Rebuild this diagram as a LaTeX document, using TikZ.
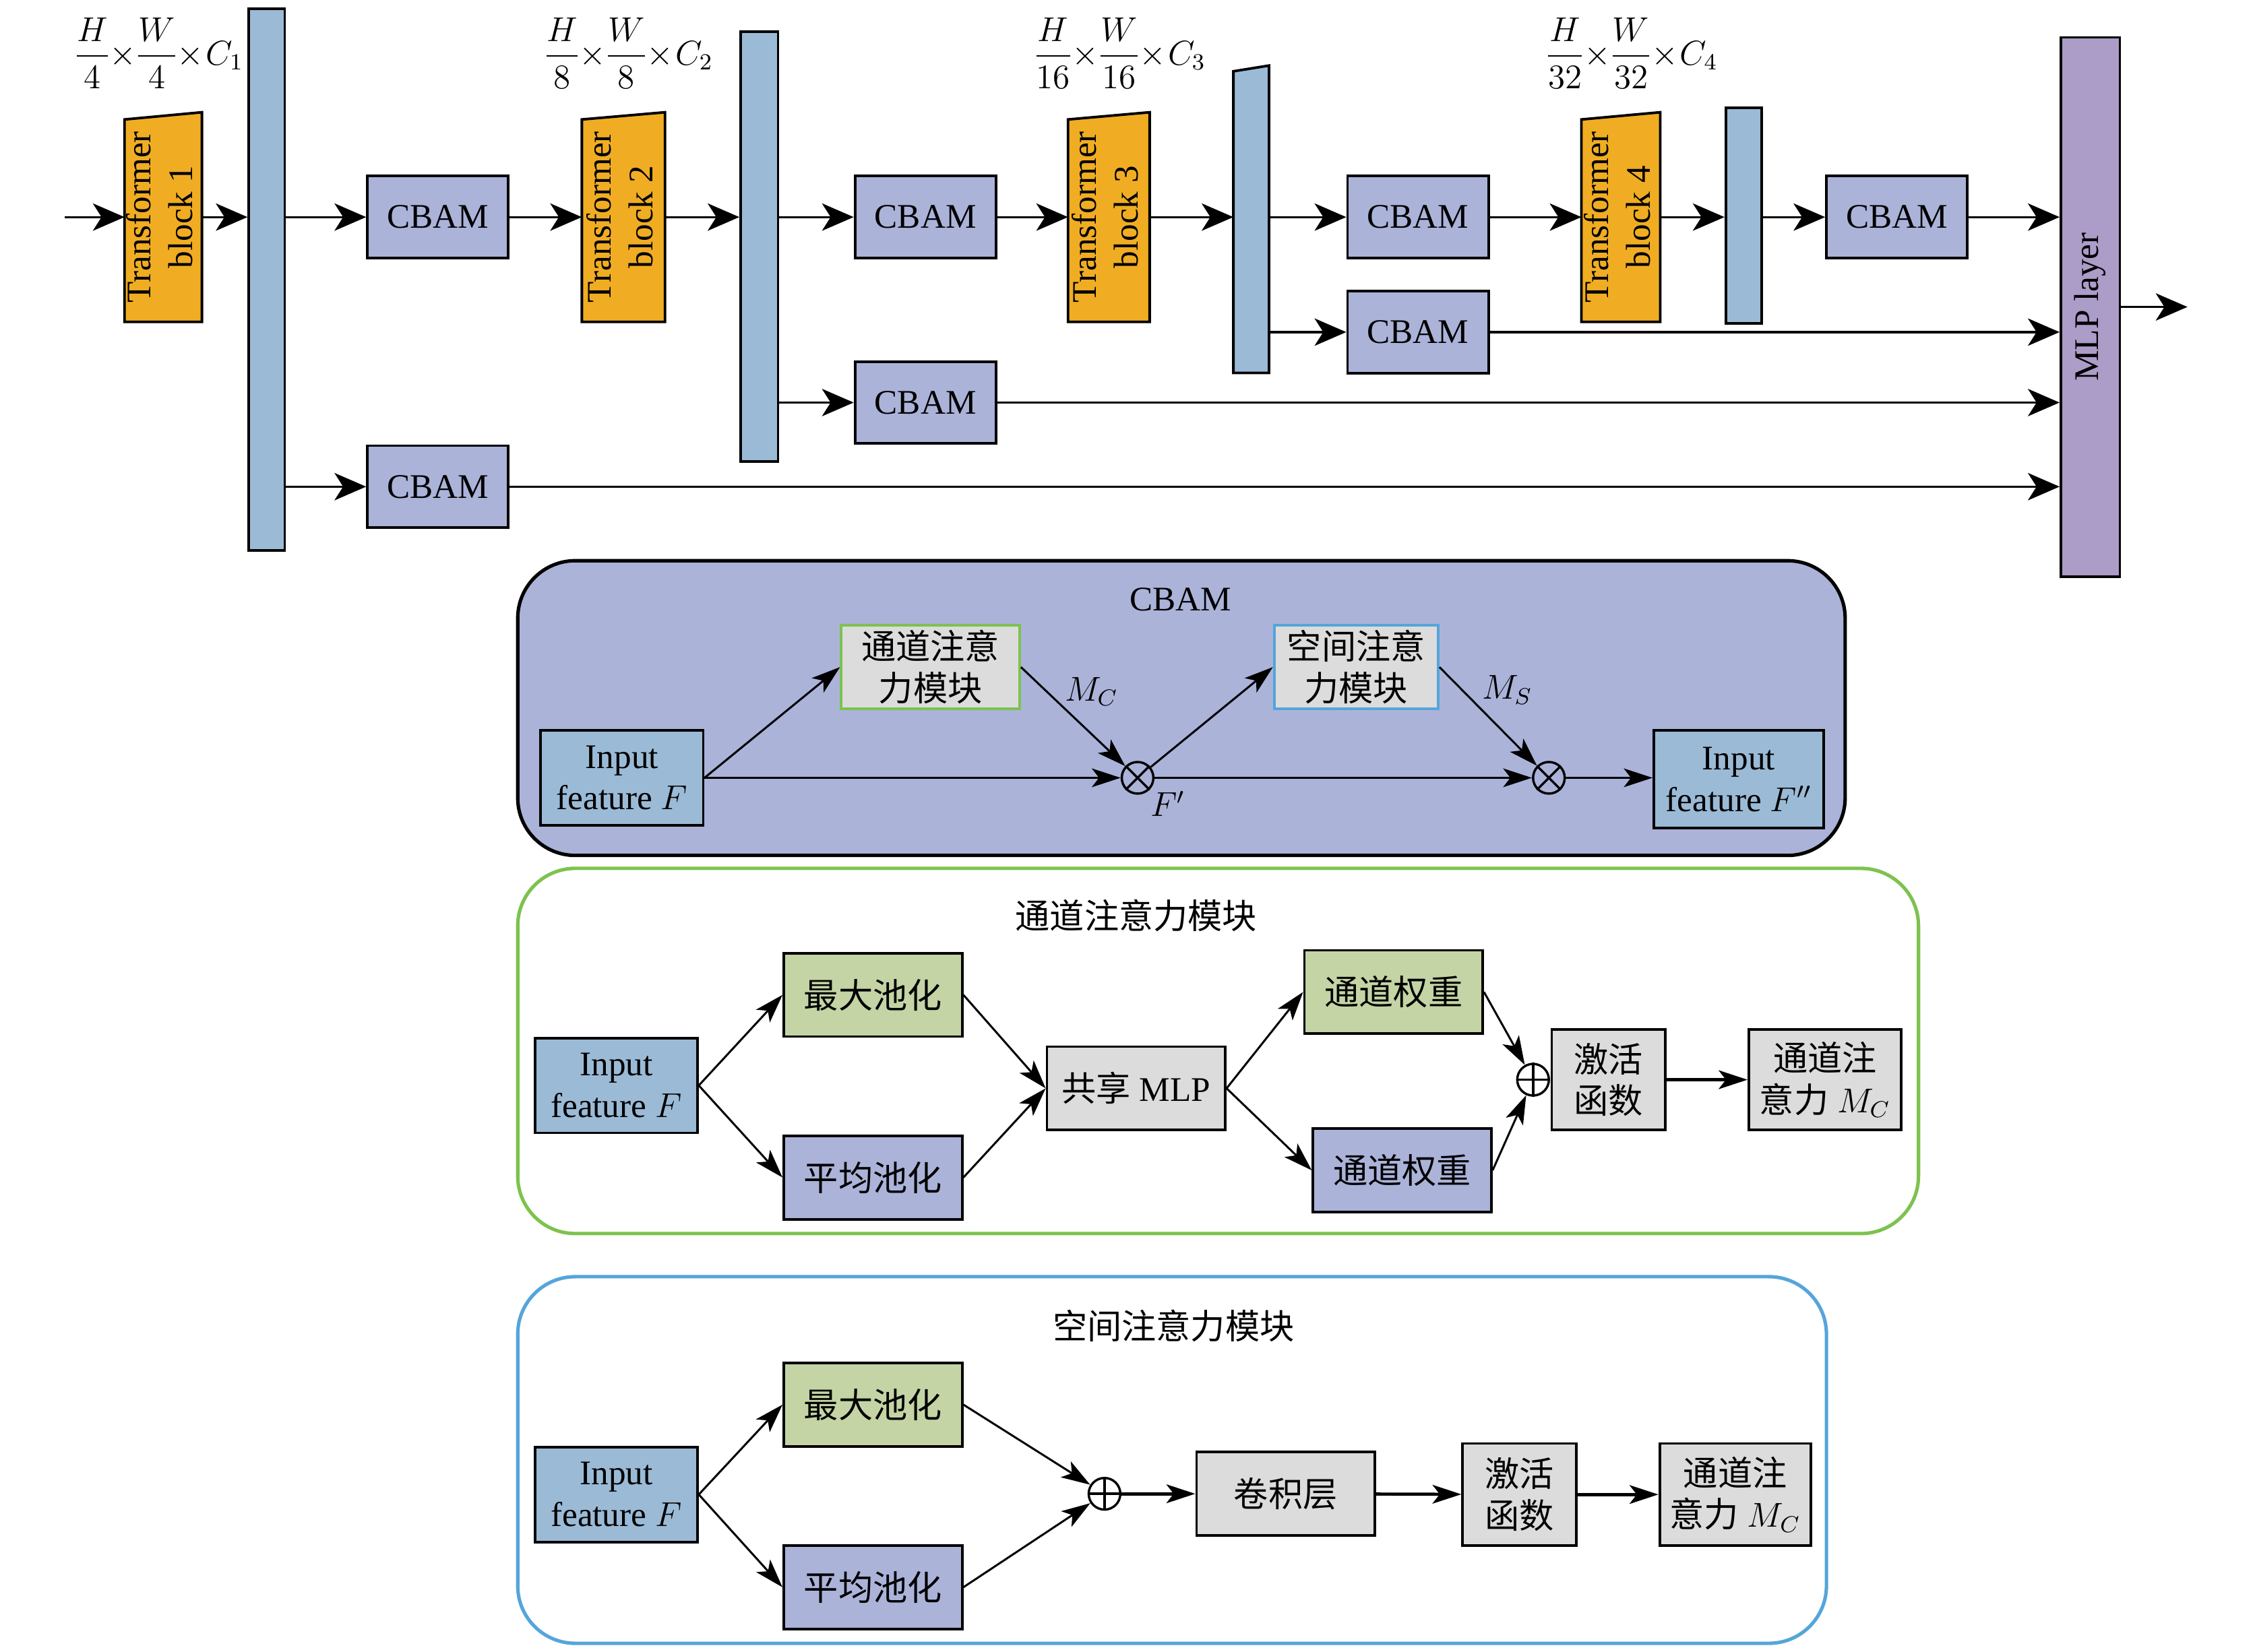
\documentclass[tikz,border=0pt]{standalone}
\usepackage{amsmath}
\usepackage{graphicx}
\usepackage{fontspec}
\setmainfont{Liberation Serif}
\newfontfamily\cjk{Noto Sans CJK SC}
\usepackage{tikz}
\usetikzlibrary{arrows.meta,backgrounds}
\definecolor{tforange}{RGB}{240,173,35}
\definecolor{barblue}{RGB}{155,186,214}
\definecolor{cbamlav}{RGB}{171,179,217}
\definecolor{mlppurple}{RGB}{172,156,200}
\definecolor{poolgreen}{RGB}{196,212,165}
\definecolor{boxgray}{RGB}{220,220,220}
\definecolor{chgreen}{RGB}{125,194,78}
\definecolor{spblue}{RGB}{85,165,218}
\newcommand{\vlabel}[1]{\rotatebox{90}{\begin{tabular}{@{}c@{}}#1\end{tabular}}}
\newcommand{\dimlabel}[2]{$\nulldelimiterspace=0pt \medmuskip=1mu
  \dfrac{H}{#1}\times\dfrac{W}{#1}\times C_{#2}$}

\begin{document}
\begin{tikzpicture}[x=0.5pt, y=-0.5pt,
  every node/.style = {font=\fontsize{12}{14.5}\selectfont},
  cbam/.style = {draw, fill=cbamlav, line width=0.9pt, minimum width=49pt, minimum height=28.5pt},
  tblock/.style = {minimum height=72.5pt, inner sep=0pt},
  bar/.style = {draw, fill=barblue, line width=0.9pt, inner sep=0pt},
  dims/.style = {inner sep=0pt, font=\fontsize{11.8}{14}\selectfont},
  panel/.style = {draw, line width=1.2pt, rounded corners=20pt, inner sep=0pt},
  feat/.style = {draw, fill=barblue, line width=0.9pt, align=center, inner sep=0pt,
    minimum width=56.5pt, minimum height=33pt},
  box/.style = {draw, fill=boxgray, line width=0.9pt, align=center, inner sep=0pt,
    minimum width=62pt, minimum height=29pt},
  op/.style = {circle, draw, line width=0.8pt, minimum size=11pt, inner sep=0pt},
  arr/.style = {-{Stealth[length=11pt, width=9.5pt, inset=3pt]}, line width=0.8pt},
  parr/.style = {-{Stealth[length=10pt, width=6.5pt, inset=2.5pt]}, line width=0.7pt},
  harr/.style = {parr, line width=1.1pt},
]
\useasboundingbox (0,0) rectangle (1568,1149);

\coordinate (in) at (45,151);
\coordinate (out) at (1521,213.5);
\node[tblock, minimum width=26.5pt, label={center:\vlabel{Transformer\\block 1}}] (t1) at (113.5,151) {};
\node[tblock, minimum width=28.5pt, label={center:\vlabel{Transformer\\block 2}}] (t2) at (433.5,151) {};
\node[tblock, minimum width=28pt, label={center:\vlabel{Transformer\\block 3}}] (t3) at (771,151) {};
\node[tblock, minimum width=27pt, label={center:\vlabel{Transformer\\block 4}}] (t4) at (1127,151) {};
\node[bar, minimum width=12.5pt, minimum height=188.5pt] (bar1) at (185.5,194.5) {};
\node[bar, minimum width=13pt, minimum height=149.5pt] (bar2) at (528,171.5) {};
\node[inner sep=0pt, minimum width=12pt, minimum height=106.5pt] (bar3) at (870,152.5) {};
\node[bar, minimum width=12.5pt, minimum height=75pt] (bar4) at (1212.5,150) {};
\node[draw, fill=mlppurple, line width=0.9pt, inner sep=0pt, minimum width=20.5pt,
  minimum height=187.5pt] (mlp) at (1453.5,213.5) {\rotatebox{90}{MLP layer}};
\node[cbam] (cb1) at (304.5,151) {CBAM};
\node[cbam] (cb2) at (643.5,151) {CBAM};
\node[cbam] (cb3) at (986,151) {CBAM};
\node[cbam] (cb4) at (1319,151) {CBAM};
\node[cbam] (cb1b) at (304.5,338.5) {CBAM};
\node[cbam] (cb2b) at (643.5,280) {CBAM};
\node[cbam] (cb3b) at (986,231) {CBAM};
\node[dims] (d1) at (111.5,37) {\dimlabel{4}{1}};
\node[dims] (d2) at (438,37) {\dimlabel{8}{2}};
\node[dims] (d3) at (779.5,37) {\dimlabel{16}{3}};
\node[dims] (d4) at (1135.5,37) {\dimlabel{32}{4}};

\begin{pgfonlayer}{background}
\foreach \t in {t1,t2,t3,t4}
  \filldraw[fill=tforange, line width=0.9pt] (\t.south west) -- ([yshift=-2.5pt]\t.north west)
    -- (\t.north east) -- (\t.south east) -- cycle;
\filldraw[fill=barblue, line width=0.9pt] (bar3.south west) -- ([yshift=-2pt]bar3.north west)
  -- (bar3.north east) -- (bar3.south east) -- cycle;
\end{pgfonlayer}

\draw[arr] (in) -- (t1);
\draw[arr] (t1) -- (t1 -| bar1.west);
\draw[arr] (bar1.east |- cb1) -- (cb1);
\draw[arr] (cb1) -- (t2);
\draw[arr] (t2) -- (t2 -| bar2.west);
\draw[arr] (bar2.east |- cb2) -- (cb2);
\draw[arr] (cb2) -- (t3);
\draw[arr] (t3) -- (t3 -| bar3.west);
\draw[arr] (bar3.east |- cb3) -- (cb3);
\draw[arr] (cb3) -- (t4);
\draw[arr] (t4) -- (t4 -| bar4.west);
\draw[arr] (bar4.east |- cb4) -- (cb4);
\draw[arr] (bar1.east |- cb1b) -- (cb1b);
\draw[arr] (bar2.east |- cb2b) -- (cb2b);
\draw[arr] (bar3.east |- cb3b) -- (cb3b);
\draw[arr] (cb4) -- (cb4 -| mlp.west);
\draw[arr] (cb3b) -- (cb3b -| mlp.west);
\draw[arr] (cb2b) -- (cb2b -| mlp.west);
\draw[arr] (cb1b) -- (cb1b -| mlp.west);
\draw[arr] (mlp) -- (out);

\node[panel, fill=cbamlav, minimum width=461.5pt, minimum height=102.5pt] (pcbam) at (821.5,492.5) {};
\node (tcbam) at (821,417) {CBAM};
\node[feat] (cin) at (432.5,541) {Input\\feature $F$};
\node[box, draw=chgreen] (chbox) at (647,464) {\cjk 通道注意\\\cjk 力模块};
\node[box, draw=spblue, minimum width=57pt] (spbox) at (943,464) {\cjk 空间注意\\\cjk 力模块};
\node[op] (m1) at (791,541) {};
\node[op] (m2) at (1077,541) {};
\node[feat, minimum width=59pt, minimum height=34pt] (fout) at (1209,542) {Input\\feature $F''$};
\node (lmc) at (759,481) {$M_C$};
\node (lms) at (1048,480) {$M_S$};
\node (lfp) at (812,559) {$F'$};
\draw[line width=0.8pt] (m1.north west) -- (m1.south east) (m1.north east) -- (m1.south west);
\draw[line width=0.8pt] (m2.north west) -- (m2.south east) (m2.north east) -- (m2.south west);
\draw[parr] (cin.east) -- (chbox.west);
\draw[parr] (cin.east) -- (m1);
\draw[parr] (chbox.east) -- (m1);
\draw[parr] (m1) -- (spbox.west);
\draw[parr] (m1) -- (m2);
\draw[parr] (spbox.east) -- (m2);
\draw[parr] (m2) -- (m2 -| fout.west);

\node[panel, draw=chgreen, minimum width=487pt, minimum height=127pt] (pch) at (847,731) {};
\node (tch) at (790,637) {\cjk 通道注意力模块};
\node[feat] (cin2) at (428.5,755) {Input\\feature $F$};
\node[box, fill=poolgreen] (max2) at (607,692) {\cjk 最大池化};
\node[box, fill=cbamlav] (avg2) at (607,819) {\cjk 平均池化};
\node[box] (mlp2) at (790,757) {{\cjk 共享} MLP};
\node[box, fill=poolgreen] (w1) at (969,690) {\cjk 通道权重};
\node[box, fill=cbamlav] (w2) at (975,814) {\cjk 通道权重};
\node[op] (p1) at (1066,751) {};
\node[box, minimum width=39.5pt, minimum height=35pt] (act1) at (1118.5,751) {\cjk 激活\\\cjk 函数};
\node[box, minimum width=53pt, minimum height=35pt] (mc1) at (1269,751) {\cjk 通道注\\{\cjk 意力} $M_C$};
\draw[line width=0.8pt] (p1.north) -- (p1.south) (p1.west) -- (p1.east);
\draw[parr] (cin2.east) -- (max2.west);
\draw[parr] (cin2.east) -- (avg2.west);
\draw[parr] (max2.east) -- (mlp2.west);
\draw[parr] (avg2.east) -- (mlp2.west);
\draw[parr] (mlp2.east) -- (w1.west);
\draw[parr] (mlp2.east) -- (w2.west);
\draw[parr] (w1.east) -- (p1);
\draw[parr] (w2.east) -- (p1);
\draw[harr] (act1) -- (mc1);

\node[panel, draw=spblue, minimum width=455pt, minimum height=127.5pt] (psp) at (815,1015.5) {};
\node (tsp) at (816,922) {\cjk 空间注意力模块};
\node[feat] (sin) at (428.5,1039.5) {Input\\feature $F$};
\node[box, fill=poolgreen] (smax) at (607,977) {\cjk 最大池化};
\node[box, fill=cbamlav] (savg) at (607,1104) {\cjk 平均池化};
\node[op] (p2) at (768,1039) {};
\node[box] (conv) at (894,1039) {\cjk 卷积层};
\node[box, minimum width=39.5pt, minimum height=35.5pt] (act2) at (1056.5,1039.5) {\cjk 激活\\\cjk 函数};
\node[box, minimum width=52.5pt, minimum height=35.5pt] (mc2) at (1206.5,1039.5) {\cjk 通道注\\{\cjk 意力} $M_C$};
\draw[line width=0.8pt] (p2.north) -- (p2.south) (p2.west) -- (p2.east);
\draw[parr] (sin.east) -- (smax.west);
\draw[parr] (sin.east) -- (savg.west);
\draw[parr] (smax.east) -- (p2);
\draw[parr] (savg.east) -- (p2);
\draw[harr] (p2) -- (conv);
\draw[harr] (conv) -- (act2);
\draw[harr] (act2) -- (mc2);
\end{tikzpicture}
\end{document}
